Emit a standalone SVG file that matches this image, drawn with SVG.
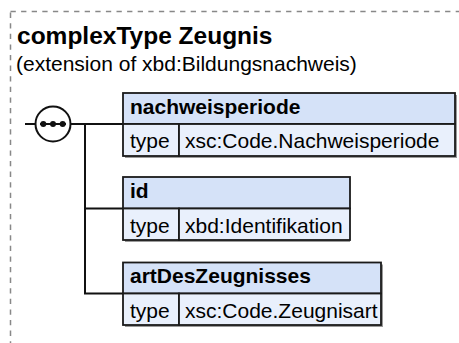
<svg xmlns="http://www.w3.org/2000/svg" width="459" height="343" viewBox="0 0 459 343">
<style>
text{font-family:"Liberation Sans",Arial,sans-serif;fill:#000}
.title{font-size:24.5px;font-weight:bold}
.sub{font-size:21px}
.hd{font-size:21px;font-weight:bold}
.tx{font-size:21px}
.head{fill:#d5e2f8;stroke:#1a1a1a;stroke-width:1.8}
.row{fill:#e9f0fc;stroke:#1a1a1a;stroke-width:1.8}
.sh{fill:#9a9a9a}
.ln{stroke:#111;stroke-width:2;fill:none}
</style>
<rect x="10.5" y="11.5" width="470" height="360" fill="none" stroke="#888" stroke-width="1.5" stroke-dasharray="5.3,5.3"/>
<text class="title" x="17" y="44">complexType Zeugnis</text>
<text class="sub" x="16" y="71">(extension of xbd:Bildungsnachweis)</text>
<g id="connectors">
<line class="ln" x1="25" y1="124" x2="35.5" y2="124"/>
<line class="ln" x1="70.5" y1="124" x2="123" y2="124"/>
<polyline class="ln" points="85,124 85,293.5 123,293.5"/>
<line class="ln" x1="85" y1="208.5" x2="123" y2="208.5"/>
</g>
<g id="sequence">
<circle cx="53" cy="124" r="17.5" fill="#fff" stroke="#111" stroke-width="2"/>
<line x1="40" y1="124" x2="66" y2="124" stroke="#111" stroke-width="2"/>
<circle cx="43.3" cy="124" r="3" fill="#111"/>
<circle cx="53" cy="124" r="3" fill="#111"/>
<circle cx="62.7" cy="124" r="3" fill="#111"/>
</g>
<g id="nachweisperiode">
<rect class="sh" x="125" y="95" width="332" height="63"/>
<rect class="head" x="123" y="93" width="332" height="31"/>
<rect class="row" x="123" y="124" width="56" height="32"/>
<rect class="row" x="179" y="124" width="276" height="32"/>
<text class="hd" x="130" y="113.5">nachweisperiode</text>
<text class="tx" x="130" y="148">type</text>
<text class="tx" x="185" y="148">xsc:Code.Nachweisperiode</text>
</g>
<g id="id">
<rect class="sh" x="125" y="179" width="225" height="63"/>
<rect class="head" x="123" y="177" width="227" height="31.5"/>
<rect class="row" x="123" y="208.5" width="56" height="31.5"/>
<rect class="row" x="179" y="208.5" width="171" height="31.5"/>
<text class="hd" x="130" y="198">id</text>
<text class="tx" x="130" y="232.5">type</text>
<text class="tx" x="185" y="232.5">xbd:Identifikation</text>
</g>
<g id="artDesZeugnisses">
<rect class="sh" x="125" y="264.5" width="258" height="62.5"/>
<rect class="head" x="123" y="262.5" width="258" height="31"/>
<rect class="row" x="123" y="293.5" width="56" height="31.5"/>
<rect class="row" x="179" y="293.5" width="202" height="31.5"/>
<text class="hd" x="130" y="283">artDesZeugnisses</text>
<text class="tx" x="130" y="317.5">type</text>
<text class="tx" x="185" y="317.5">xsc:Code.Zeugnisart</text>
</g>
</svg>
